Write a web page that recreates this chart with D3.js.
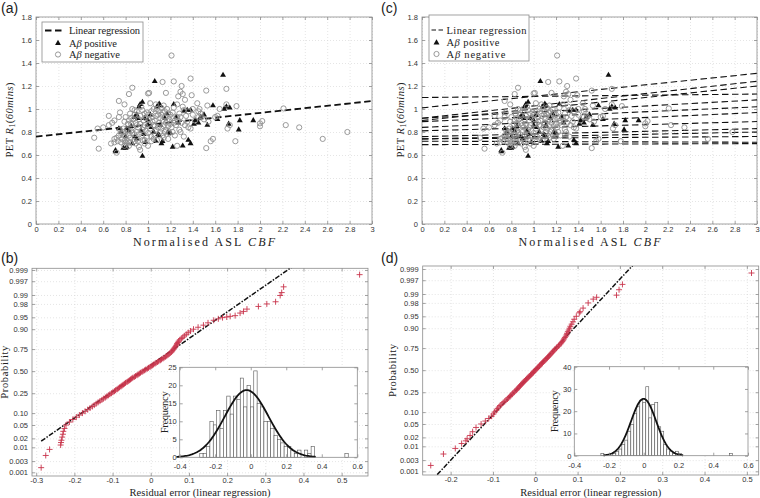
<!DOCTYPE html>
<html>
<head>
<meta charset="utf-8">
<script src="https://cdn.jsdelivr.net/npm/d3@7"></script>
<style>
body { margin: 0; background: #fff; }
.grid line { stroke: #d4d4d4; stroke-width: 0.6; stroke-dasharray: 1,2; }
.grid path { display: none; }
.ax path { display: none; }
.ax line { stroke: #8c8c8c; stroke-width: 0.8; }
.ax text { font-family: "Liberation Sans", Arial, sans-serif; font-size: 7.5px; fill: #333; }
.lab { font-family: "Liberation Serif", "DejaVu Serif", serif; font-size: 10.5px; fill: #222; }
.panel { font-family: "Liberation Sans", Arial, sans-serif; font-size: 14px; fill: #222; }
</style>
</head>
<body>
<svg id="fig" width="760" height="498"></svg>
<script>
// ---- scatter data (Normalised ASL CBF, PET R1) ----
var abNegative = [
  [1.21,1.465],[1.38,1.265],[1.23,1.24],[1.13,1.235],[0.86,1.185],[1.70,1.175],[1.30,1.20],[1.52,1.16],
  [0.83,1.13],[1.01,1.14],[1.00,1.135],[1.16,1.14],[1.29,1.15],[1.31,1.13],[1.27,1.11],[1.33,1.08],
  [1.39,1.12],[0.74,1.07],[0.79,1.04],[1.44,1.05],[1.53,1.03],[1.64,1.00],[1.70,1.04],[1.79,1.025],
  [2.21,1.005],[2.02,0.895],[2.00,0.875],[2.00,0.85],[2.23,0.86],[2.35,0.84],[2.56,0.74],[2.78,0.80],
  [1.71,0.83],[1.73,0.86],[1.78,0.72],[1.52,0.66],[1.56,0.72],[1.58,0.74],[1.26,0.68],[1.32,0.76],
  [1.36,0.84],[0.52,0.75],[0.55,0.83],[0.56,0.655],[0.60,0.84],[0.65,0.86],[0.65,0.94],[0.67,0.70],
  [0.70,0.71],[0.70,0.74],[0.72,0.62],[0.74,0.93],[0.75,0.97],[0.76,0.79],[0.78,0.83],[0.79,0.89],
  [0.80,0.71],[0.81,0.70],[0.82,0.72],[0.86,1.00],[0.88,0.95],[0.85,0.87],[0.92,0.67],[0.93,0.645],
  [0.97,0.73],[1.00,0.68],[1.02,1.05],[1.05,1.00],[1.10,0.98],[1.12,1.01],[1.15,0.93],[1.20,0.95],
  [1.22,0.97],[1.25,0.86],[1.28,0.82],[1.30,0.88],[1.35,0.89],[1.40,0.95],[1.45,0.98],[1.46,1.00],
  [1.47,0.96],[1.48,0.93],[1.19,0.79],[1.24,0.77],[1.13,0.77],[1.08,0.73],[1.05,0.86],[0.98,0.92],
  [0.95,0.99],[0.90,0.80],[0.88,0.78],[0.84,0.75],[0.96,0.84],[1.02,0.83],[1.07,0.82],[1.10,0.88],
  [1.14,0.85],[1.17,0.90],[0.92,0.91],[0.87,0.91],[0.82,0.87],[0.78,0.80],[0.74,0.77],[0.72,0.75],
  [0.76,0.71],[0.83,0.68],[0.88,0.72],[0.94,0.76],[1.00,0.79],[1.04,0.93],[1.09,0.95],[1.13,0.97],
  [1.18,0.96],[1.22,0.92],[1.26,0.93],[1.32,0.99],[1.36,0.98],[1.42,0.90],[1.38,0.83],[1.54,0.89],
  [1.60,0.93],[1.62,0.94],[0.70,0.90],[0.68,0.88],[0.80,0.93],[0.84,0.96],[0.90,0.98],[0.97,0.96],
  [1.01,0.91],[1.06,0.90],[1.11,0.92],[1.16,0.88],[1.20,0.87],[0.93,0.87],[0.86,0.84],[0.81,0.82],
  [0.77,0.74],[0.73,0.72],[0.89,0.70],[0.95,0.73],[1.03,0.76],[1.11,0.80],[1.16,0.82],[1.21,0.84],
  [0.99,0.97],[1.03,0.98],[1.08,1.00],[1.14,1.03],[1.26,1.04],[1.31,1.02],[0.97,0.86],[0.91,0.84],
  [0.85,0.81],[0.80,0.77],[0.79,0.72],[0.98,0.81],[1.06,0.77],[1.09,0.84],[1.13,0.90],[1.24,0.90],
  [1.28,0.96],[1.45,0.93],[1.50,0.91],
  [0.85,0.92],[0.89,0.88],[0.93,0.94],[0.96,0.90],[1.00,0.95],[1.04,0.89],[1.07,0.94],[1.12,0.95],
  [1.15,0.98],[1.19,0.91],[1.23,0.88],[1.27,0.90],[1.18,0.85],[1.12,0.83],[1.06,0.85],[1.01,0.87],
  [0.95,0.82],[0.90,0.86],[0.86,0.79],[0.83,0.77],[0.92,0.78],[0.99,0.76],[1.05,0.74],[1.14,0.75],
  [1.18,0.74],[0.97,0.70],[0.91,0.72],[0.84,0.71],[0.78,0.77],[0.75,0.82],[0.83,0.90],[0.88,0.99],
  [0.94,1.02],[1.07,1.04],[1.17,1.00],[1.23,1.01],[1.29,0.93],[1.34,0.94],[1.40,1.00],[1.33,0.86],
  [1.29,0.80],[1.22,0.80],[1.15,0.80],[1.03,0.72],[0.79,0.68]
];
var abPositive = [
  [1.67,1.295],[1.06,1.24],[0.93,1.04],[0.95,1.06],[0.92,1.02],[1.10,1.045],[1.08,1.02],[1.11,1.03],
  [1.23,1.04],[1.58,1.03],[1.68,1.00],[1.73,1.01],[1.70,1.02],[1.35,0.99],[1.38,0.99],[1.32,0.98],
  [0.95,0.59],[0.71,0.64],[0.71,0.63],[0.78,0.66],[0.80,0.66],[0.81,0.67],[1.22,0.67],[1.31,0.68],
  [1.38,0.70],[1.36,0.73],[1.12,0.70],[1.13,0.72],[1.07,0.72],[1.81,0.82],[1.82,0.90],[1.94,0.90],
  [1.72,0.87],[1.53,0.86],[1.47,0.93],[1.50,0.95],[1.42,0.90],[1.45,0.88],[1.41,0.87],[1.27,0.88],
  [1.25,0.93],[1.20,0.79],[1.18,0.80],[1.03,0.84],[1.00,0.86],[1.05,0.80],[0.90,0.95],[0.88,0.93],
  [0.91,0.92],[0.85,0.85],[0.83,0.81],[0.81,0.83],[0.76,0.80],[0.74,0.83],[0.88,0.76],[0.90,0.74],
  [0.97,0.92],[1.00,0.90],[1.09,0.78],[1.10,0.77],[1.15,0.92],[1.17,0.96],[0.98,0.71],[0.86,0.70],
  [1.02,0.95],[0.94,0.81],[0.96,0.78],[1.11,0.86],[0.80,0.76],[1.62,0.91]
];
// linear regression fit (a): intercept, slope
var fitA = [0.76, 0.103];
// regression lines shown in (c): intercept, slope
var fitsC = [
  [1.10,0.010],[1.01,0.100],[0.92,0.107],[0.90,0.100],[0.92,0.053],[0.89,0.043],[0.84,0.043],
  [0.81,0.027],[0.76,0.023],[0.74,0.020],[0.74,0.007],[0.72,-0.003],[0.69,0.003]
];
var cbfTicks = [0,0.2,0.4,0.6,0.8,1,1.2,1.4,1.6,1.8,2,2.2,2.4,2.6,2.8,3];
var r1Ticks = [0,0.2,0.4,0.6,0.8,1,1.2,1.4,1.6,1.8];

// ---- normal probability plots: [residual, probability] ----
var qqB = [
  [-0.287,0.0016],[-0.275,0.005],[-0.265,0.0084],[-0.236,0.012],[-0.235,0.0146],[-0.234,0.0174],
  [-0.232,0.022],[-0.230,0.027],[-0.229,0.033],
  [-0.226,0.04],[-0.222,0.05],[-0.213,0.06],[-0.204,0.07],[-0.195,0.08],[-0.187,0.09],[-0.179,0.10],
  [-0.172,0.11],[-0.165,0.12],[-0.159,0.13],[-0.153,0.14],[-0.148,0.15],[-0.143,0.16],[-0.138,0.17],
  [-0.133,0.18],[-0.128,0.19],[-0.124,0.20],[-0.119,0.21],[-0.115,0.22],[-0.111,0.23],[-0.107,0.24],
  [-0.103,0.25],[-0.099,0.26],[-0.095,0.27],[-0.092,0.28],[-0.088,0.29],[-0.085,0.30],[-0.082,0.31],
  [-0.078,0.32],[-0.075,0.33],[-0.072,0.34],[-0.069,0.35],[-0.066,0.36],[-0.062,0.37],[-0.059,0.38],
  [-0.056,0.39],[-0.053,0.40],[-0.050,0.41],[-0.047,0.42],[-0.043,0.43],[-0.040,0.44],[-0.036,0.45],
  [-0.033,0.46],[-0.030,0.47],[-0.027,0.48],[-0.023,0.49],[-0.020,0.50],[-0.016,0.51],[-0.013,0.52],
  [-0.009,0.53],[-0.006,0.54],[-0.002,0.55],[0.001,0.56],[0.004,0.57],[0.007,0.58],[0.011,0.59],
  [0.014,0.60],[0.018,0.61],[0.021,0.62],[0.025,0.63],[0.028,0.64],[0.032,0.65],[0.035,0.66],
  [0.039,0.67],[0.042,0.68],[0.045,0.69],[0.048,0.70],[0.051,0.71],[0.054,0.72],[0.056,0.73],
  [0.058,0.74],[0.060,0.75],[0.062,0.76],[0.064,0.77],[0.066,0.78],[0.068,0.79],[0.069,0.80],
  [0.071,0.81],[0.073,0.82],[0.076,0.83],[0.080,0.84],[0.084,0.85],[0.088,0.86],[0.093,0.87],
  [0.098,0.88],[0.104,0.89],[0.112,0.90],[0.124,0.91],[0.138,0.92],[0.150,0.93],[0.165,0.94],
  [0.177,0.945],[0.188,0.949],[0.199,0.951],[0.208,0.953],[0.221,0.955],[0.234,0.962],[0.243,0.966],
  [0.252,0.971],[0.282,0.976],[0.304,0.980],[0.327,0.983],[0.339,0.9896],[0.343,0.9918],[0.348,0.995],
  [0.547,0.9984]
];
var qqD = [
  [-0.247,0.0018],[-0.217,0.0052],[-0.189,0.0084],[-0.174,0.0125],[-0.164,0.0154],[-0.161,0.018],
  [-0.154,0.023],[-0.148,0.030],
  [-0.140,0.04],[-0.128,0.05],[-0.118,0.06],[-0.110,0.07],[-0.103,0.08],[-0.099,0.09],[-0.096,0.10],
  [-0.092,0.11],[-0.089,0.12],[-0.086,0.13],[-0.083,0.14],[-0.079,0.15],[-0.076,0.16],[-0.072,0.17],
  [-0.069,0.18],[-0.066,0.19],[-0.063,0.20],[-0.060,0.21],[-0.058,0.22],[-0.055,0.23],[-0.053,0.24],
  [-0.050,0.25],[-0.048,0.26],[-0.045,0.27],[-0.043,0.28],[-0.041,0.29],[-0.039,0.30],[-0.037,0.31],
  [-0.035,0.32],[-0.033,0.33],[-0.031,0.34],[-0.029,0.35],[-0.027,0.36],[-0.025,0.37],[-0.023,0.38],
  [-0.021,0.39],[-0.019,0.40],[-0.017,0.41],[-0.015,0.42],[-0.013,0.43],[-0.011,0.44],[-0.009,0.45],
  [-0.007,0.46],[-0.005,0.47],[-0.004,0.48],[-0.002,0.49],[0.000,0.50],[0.002,0.51],[0.004,0.52],
  [0.006,0.53],[0.008,0.54],[0.010,0.55],[0.011,0.56],[0.013,0.57],[0.015,0.58],[0.017,0.59],
  [0.019,0.60],[0.021,0.61],[0.023,0.62],[0.025,0.63],[0.027,0.64],[0.029,0.65],[0.031,0.66],
  [0.033,0.67],[0.035,0.68],[0.037,0.69],[0.039,0.70],[0.041,0.71],[0.043,0.72],[0.045,0.73],
  [0.047,0.74],[0.050,0.75],[0.052,0.76],[0.055,0.77],[0.057,0.78],[0.060,0.79],[0.062,0.80],
  [0.064,0.81],[0.066,0.82],[0.068,0.83],[0.070,0.84],[0.072,0.85],[0.074,0.86],[0.075,0.87],
  [0.077,0.88],[0.079,0.89],[0.081,0.90],[0.083,0.91],[0.086,0.92],[0.089,0.93],[0.092,0.94],
  [0.097,0.95],[0.104,0.96],[0.106,0.963],
  [0.113,0.971],[0.125,0.980],[0.137,0.985],[0.145,0.987],[0.192,0.989],[0.198,0.993],[0.206,0.9956],
  [0.511,0.9985]
];
// normal fits used for reference line and histogram curve: [mu, sigma]
var fitB = [-0.023, 0.1235];
var fitD = [-0.001, 0.0723];
var probTicks = [0.001,0.003,0.01,0.02,0.05,0.10,0.25,0.50,0.75,0.90,0.95,0.98,0.99,0.997,0.999];
var probLabels = ["0.001","0.003","0.01","0.02","0.05","0.10","0.25","0.50","0.75","0.90","0.95","0.98","0.99","0.997","0.999"];
var residTicksB = [-0.3,-0.2,-0.1,0,0.1,0.2,0.3,0.4,0.5];
var residTicksD = [-0.2,-0.1,0,0.1,0.2,0.3,0.4,0.5];

// ---- histograms of residuals ----
var histB = [1,1,3,10,9,13,8,13,17,12,17,16,22,14,20,14,24,15,14,10,10,8,6,5,4,3,3,2,1,2,0,2,1,3,0,0,0,0,0,0,0,0,0,1];
var histBStart = -0.287, histBWidth = 0.019;
var histD = [1,0,0,1,1,2,3,5,7,11,14,19,22,25,24,31,17,23,24,13,11,5,3,2,1,2,1,0,0,0,0,0,0,0,0,0,0,0,0,0,0,0,0,1];
var histDStart = -0.247, histDWidth = 0.01723;
var histXTicks = [-0.4,-0.2,0,0.2,0.4,0.6];
var histYTicksB = [0,5,10,15,20,25];
var histYTicksD = [0,10,20,30,40];

// inverse normal cdf (Acklam)
function norminv(p) {
  var a = [-3.969683028665376e+01,2.209460984245205e+02,-2.759285104469687e+02,1.383577518672690e+02,-3.066479806614716e+01,2.506628277459239e+00];
  var b = [-5.447609879822406e+01,1.615858368580409e+02,-1.556989798598866e+02,6.680131188771972e+01,-1.328068155288572e+01];
  var c = [-7.784894002430293e-03,-3.223964580411365e-01,-2.400758277161838e+00,-2.549732539343734e+00,4.374664141464968e+00,2.938163982698783e+00];
  var d = [7.784695709041462e-03,3.224671290700398e-01,2.445134137142996e+00,3.754408661907416e+00];
  var q, r;
  if (p < 0.02425) {
    q = Math.sqrt(-2 * Math.log(p));
    return (((((c[0]*q+c[1])*q+c[2])*q+c[3])*q+c[4])*q+c[5]) / ((((d[0]*q+d[1])*q+d[2])*q+d[3])*q+1);
  }
  if (p <= 1 - 0.02425) {
    q = p - 0.5; r = q * q;
    return (((((a[0]*r+a[1])*r+a[2])*r+a[3])*r+a[4])*r+a[5])*q / (((((b[0]*r+b[1])*r+b[2])*r+b[3])*r+b[4])*r+1);
  }
  q = Math.sqrt(-2 * Math.log(1 - p));
  return -(((((c[0]*q+c[1])*q+c[2])*q+c[3])*q+c[4])*q+c[5]) / ((((d[0]*q+d[1])*q+d[2])*q+d[3])*q+1);
}

var svg = d3.select("#fig");
var fmt = function (d) { return String(d); };
var RED = "#c8344c";

// spread a label to the width it has in the figure
function fit(t, len) {
  return t.attr("textLength", len).attr("lengthAdjust", "spacing");
}

// frame, grid, inward ticks on all four sides (matlab look)
function drawAxes(g, x, y, w, h, xVals, yVals, xFmt, yFmt, grid, xPad, yPad) {
  if (grid) {
    g.append("g").attr("class", "grid").attr("transform", "translate(0," + h + ")")
      .call(d3.axisBottom(x).tickValues(xVals).tickSize(-h).tickFormat(""));
    g.append("g").attr("class", "grid")
      .call(d3.axisLeft(y).tickValues(yVals).tickSize(-w).tickFormat(""));
  }
  g.append("g").attr("class", "ax").attr("transform", "translate(0," + h + ")")
    .call(d3.axisBottom(x).tickValues(xVals).tickSizeInner(-3).tickSizeOuter(0).tickPadding(xPad).tickFormat(xFmt));
  g.append("g").attr("class", "ax")
    .call(d3.axisTop(x).tickValues(xVals).tickSizeInner(-3).tickSizeOuter(0).tickFormat(""));
  g.append("g").attr("class", "ax")
    .call(d3.axisLeft(y).tickValues(yVals).tickSizeInner(-3).tickSizeOuter(0).tickPadding(yPad).tickFormat(yFmt));
  g.append("g").attr("class", "ax").attr("transform", "translate(" + w + ",0)")
    .call(d3.axisRight(y).tickValues(yVals).tickSizeInner(-3).tickSizeOuter(0).tickFormat(""));
  g.append("rect").attr("width", w).attr("height", h)
    .attr("fill", "none").attr("stroke", "#8c8c8c").attr("stroke-width", 0.8);
}

function scatterPanel(left, top, w, h, fits, lineW, lg, yLabX) {
  var g = svg.append("g").attr("transform", "translate(" + left + "," + top + ")");
  var x = d3.scaleLinear().domain([0, 3]).range([0, w]);
  var y = d3.scaleLinear().domain([0, 1.8]).range([h, 0]);
  drawAxes(g, x, y, w, h, cbfTicks, r1Ticks, fmt, fmt, true, 3, 4);

  fits.forEach(function (f) {
    g.append("line")
      .attr("x1", x(0)).attr("y1", y(f[0]))
      .attr("x2", x(3)).attr("y2", y(f[0] + 3 * f[1]))
      .attr("stroke", "#111").attr("stroke-width", lineW).attr("stroke-dasharray", "6.5,3.5");
  });

  var tri = d3.symbol().type(d3.symbolTriangle).size(15);
  g.selectAll(".pos").data(abPositive).enter().append("path")
    .attr("transform", function (d) { return "translate(" + x(d[0]) + "," + y(d[1]) + ")"; })
    .attr("d", tri).attr("fill", "#111");
  g.selectAll(".neg").data(abNegative).enter().append("circle")
    .attr("cx", function (d) { return x(d[0]); })
    .attr("cy", function (d) { return y(d[1]); })
    .attr("r", 2.6).attr("fill", "none").attr("stroke", "#8f8f8f").attr("stroke-width", 0.9);

  // legend
  var L = g.append("g").attr("transform", "translate(" + lg.x + "," + lg.y + ")");
  L.append("rect").attr("width", lg.w).attr("height", lg.h)
    .attr("fill", "#fff").attr("stroke", "#8c8c8c").attr("stroke-width", 0.8);
  var rows = [lg.row, lg.row + 12.7, lg.row + 24];
  L.append("line").attr("x1", lg.s1).attr("x2", lg.s2).attr("y1", rows[0]).attr("y2", rows[0])
    .attr("stroke", "#111").attr("stroke-width", lineW).attr("stroke-dasharray", lg.dash);
  L.append("path").attr("transform", "translate(" + lg.m + "," + rows[1] + ")").attr("d", tri).attr("fill", "#111");
  L.append("circle").attr("cx", lg.m).attr("cy", rows[2]).attr("r", 2.6)
    .attr("fill", "none").attr("stroke", "#8f8f8f").attr("stroke-width", 0.9);
  fit(L.append("text").attr("class", "lab").attr("x", lg.tx).attr("y", rows[0] + 3.5).text("Linear regression"), lg.len[0]);
  [["positive", rows[1], lg.len[1]], ["negative", rows[2], lg.len[2]]].forEach(function (r) {
    var t = L.append("text").attr("class", "lab").attr("x", lg.tx).attr("y", r[1] + 3.5);
    t.append("tspan").text("A");
    t.append("tspan").attr("font-style", "italic").text("\u03b2");
    t.append("tspan").text(" " + r[0]);
    fit(t, r[2]);
  });

  // axis labels
  var xl = g.append("text").attr("class", "lab").style("font-size", "12px")
    .attr("x", w / 2 - 71).attr("y", h + 22);
  xl.append("tspan").text("Normalised ASL ");
  xl.append("tspan").attr("font-style", "italic").text("CBF");
  fit(xl, 142);
  var yl = g.append("text").attr("class", "lab")
    .attr("transform", "translate(" + yLabX + "," + (h / 2 + 37) + ") rotate(-90)");
  yl.append("tspan").text("PET ");
  yl.append("tspan").attr("font-style", "italic").text("R");
  yl.append("tspan").attr("font-size", "7.5px").attr("dy", 2).text("1");
  yl.append("tspan").attr("dy", -2).text("(");
  yl.append("tspan").attr("font-style", "italic").text("60mins");
  yl.append("tspan").text(")");
  fit(yl, 75);
}

function qqPanel(left, top, w, h, xDom, zDom, xVals, pts, nfit, yLabX, inset) {
  var g = svg.append("g").attr("transform", "translate(" + left + "," + top + ")");
  var x = d3.scaleLinear().domain(xDom).range([0, w]);
  var z = d3.scaleLinear().domain(zDom).range([h, 0]);
  var zTicks = probTicks.map(norminv);
  drawAxes(g, x, z, w, h, xVals, zTicks, fmt, function (d, i) { return probLabels[i]; }, true, 2, 4);

  var id = "clip" + Math.round(left) + "_" + Math.round(top);
  g.append("clipPath").attr("id", id).append("rect").attr("width", w).attr("height", h);
  var xmin = d3.min(pts, function (d) { return d[0]; });
  var xmax = d3.max(pts, function (d) { return d[0]; });
  g.append("line").attr("clip-path", "url(#" + id + ")")
    .attr("x1", x(xmin)).attr("y1", z((xmin - nfit[0]) / nfit[1]))
    .attr("x2", x(xmax)).attr("y2", z((xmax - nfit[0]) / nfit[1]))
    .attr("stroke", "#111").attr("stroke-width", 1.5).attr("stroke-dasharray", "5,1.5,1.5,1.5");

  g.selectAll(".qq").data(pts).enter().append("path")
    .attr("transform", function (d) { return "translate(" + x(d[0]) + "," + z(norminv(d[1])) + ")"; })
    .attr("d", "M-3,0H3M0,-3V3").attr("stroke", RED).attr("stroke-width", 0.9).attr("fill", "none");

  fit(g.append("text").attr("class", "lab").attr("x", w / 2 - 70.5).attr("y", h + 20.5)
    .text("Residual error (linear regression)"), 141);
  fit(g.append("text").attr("class", "lab")
    .attr("transform", "translate(" + yLabX + "," + (h / 2 + 26.5) + ") rotate(-90)").text("Probability"), 53);

  // inset histogram with fitted normal
  var ig = svg.append("g").attr("transform", "translate(" + inset.left + "," + inset.top + ")");
  var iw = inset.w, ih = inset.h;
  ig.append("rect").attr("width", iw).attr("height", ih).attr("fill", "#fff");
  var hx = d3.scaleLinear().domain([-0.4, 0.6]).range([0, iw]);
  var hy = d3.scaleLinear().domain([0, inset.yMax]).range([ih, 0]);
  ig.selectAll(".bar").data(inset.counts).enter().append("rect")
    .attr("x", function (d, i) { return hx(inset.start + i * inset.width); })
    .attr("width", hx(inset.width) - hx(0))
    .attr("y", function (d) { return hy(d); })
    .attr("height", function (d) { return ih - hy(d); })
    .attr("fill", "#fff").attr("stroke", "#555").attr("stroke-width", 0.6);
  var n = d3.sum(inset.counts);
  var curveX = d3.range(nfit[0] - 3.2 * nfit[1], nfit[0] + 3.2 * nfit[1], nfit[1] / 20);
  var pdf = function (v) {
    var u = (v - nfit[0]) / nfit[1];
    return n * inset.width * Math.exp(-0.5 * u * u) / (nfit[1] * Math.sqrt(2 * Math.PI));
  };
  ig.append("path").datum(curveX)
    .attr("d", d3.line().x(function (v) { return hx(v); }).y(function (v) { return hy(pdf(v)); }))
    .attr("fill", "none").attr("stroke", "#111").attr("stroke-width", 1.8);
  drawAxes(ig, hx, hy, iw, ih, histXTicks, inset.yTicks, fmt, fmt, false, 6.5, 3);
  fit(ig.append("text").attr("class", "lab")
    .attr("transform", "translate(" + inset.labX + "," + (ih / 2 + 21) + ") rotate(-90)").text("Frequency"), 42);
}

scatterPanel(36, 17, 336, 207, [fitA], 1.8,
  { x: 6, y: 5, w: 101, h: 40, row: 8.5, s1: 3, s2: 21, m: 16, tx: 27, len: [71, 48, 51], dash: "6.5,3.5" }, -23);
scatterPanel(422, 17, 335, 207, fitsC, 1.1,
  { x: 7, y: -2, w: 100, h: 46, row: 15, s1: 2.5, s2: 14, m: 7.5, tx: 17.5, len: [80, 53, 59], dash: "4.5,2.5" }, -18);

qqPanel(32, 268.3, 336, 207.7, [-0.311, 0.569], [-3.203, 3.142], residTicksB, qqB, fitB, -24,
  { left: 179.7, top: 367.3, w: 177.6, h: 90, yMax: 25, yTicks: histYTicksB, counts: histB,
    start: histBStart, width: histBWidth, labX: -12 });
qqPanel(422.7, 266, 336, 209, [-0.266, 0.528], [-3.203, 3.182], residTicksD, qqD, fitD, -27,
  { left: 574.3, top: 366.7, w: 173.7, h: 89, yMax: 40, yTicks: histYTicksD, counts: histD,
    start: histDStart, width: histDWidth, labX: -16 });

svg.append("text").attr("class", "panel").attr("x", 1).attr("y", 13).text("(a)");
svg.append("text").attr("class", "panel").attr("x", 1).attr("y", 263).text("(b)");
svg.append("text").attr("class", "panel").attr("x", 381).attr("y", 13).text("(c)");
svg.append("text").attr("class", "panel").attr("x", 381).attr("y", 263).text("(d)");
</script>
</body>
</html>
